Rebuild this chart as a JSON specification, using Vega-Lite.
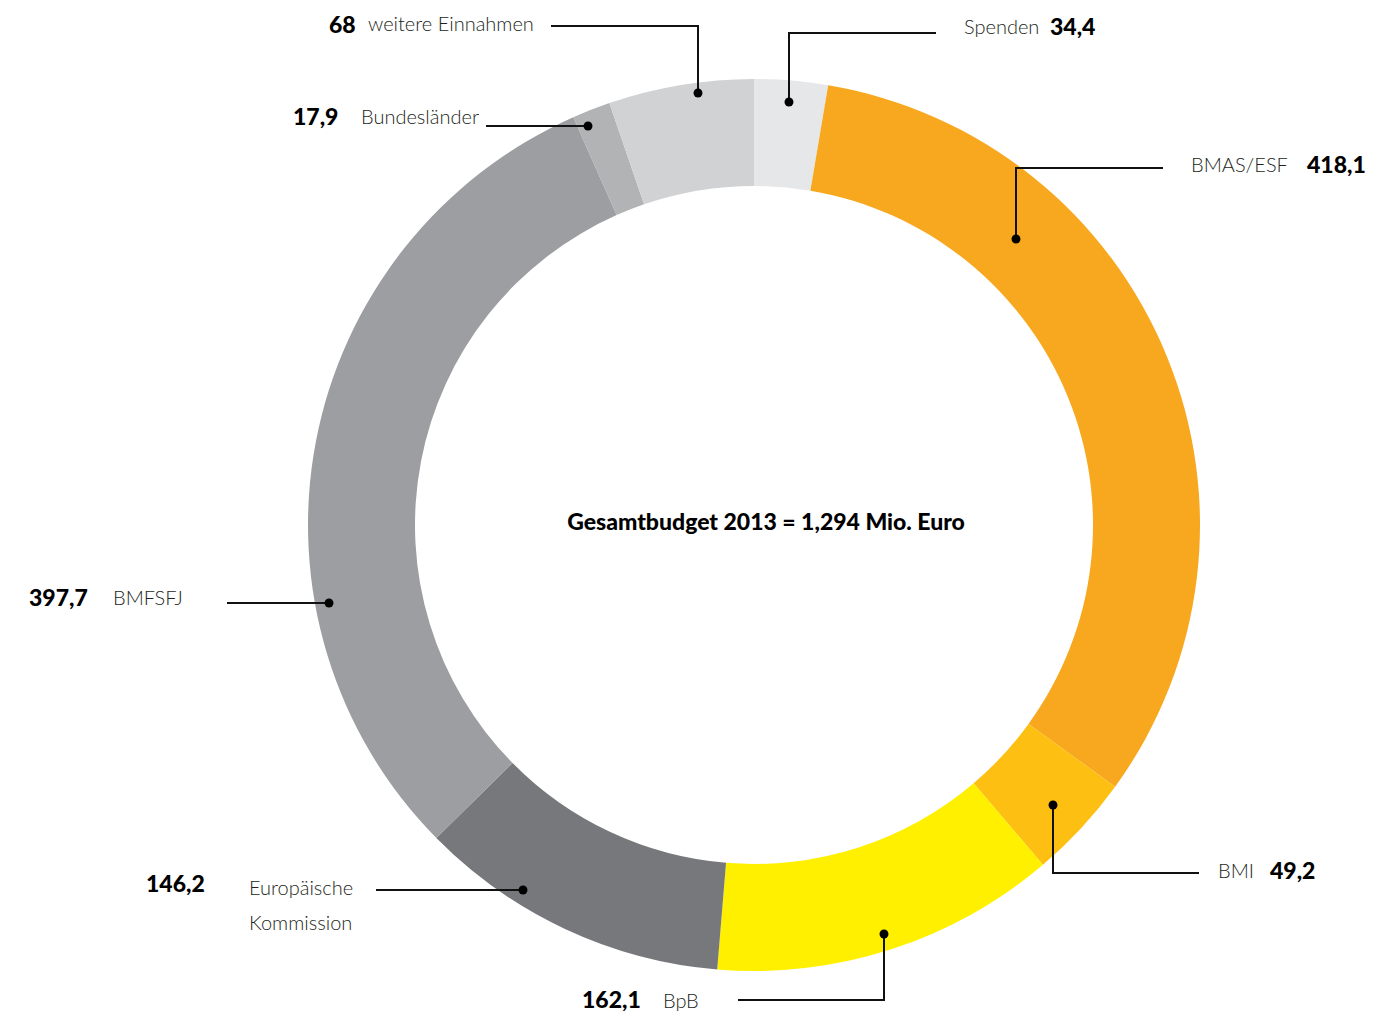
{
  "$schema": "https://vega.github.io/schema/vega-lite/v6.json",
  "width": 1400,
  "height": 1016,
  "autosize": "none",
  "padding": 0,
  "background": "white",
  "config": {"view": {"stroke": null}},
  "datasets": {
    "segments": [
      {"name": "Spenden", "value": 34.4, "idx": 1},
      {"name": "BMAS/ESF", "value": 418.1, "idx": 2},
      {"name": "BMI", "value": 49.2, "idx": 3},
      {"name": "BpB", "value": 162.1, "idx": 4},
      {"name": "Europäische Kommission", "value": 146.2, "idx": 5},
      {"name": "BMFSFJ", "value": 397.7, "idx": 6},
      {"name": "Bundesländer", "value": 17.9, "idx": 7},
      {"name": "weitere Einnahmen", "value": 68, "idx": 8}
    ],
    "leaders": [
      {"id": "weitere", "seq": 0, "x": -56, "y": 432},
      {"id": "weitere", "seq": 1, "x": -56, "y": 499},
      {"id": "weitere", "seq": 2, "x": -203, "y": 499},
      {"id": "spenden", "seq": 0, "x": 35, "y": 423},
      {"id": "spenden", "seq": 1, "x": 35, "y": 492},
      {"id": "spenden", "seq": 2, "x": 182, "y": 492},
      {"id": "laender", "seq": 0, "x": -166, "y": 399},
      {"id": "laender", "seq": 1, "x": -268, "y": 399},
      {"id": "bmas", "seq": 0, "x": 262, "y": 286},
      {"id": "bmas", "seq": 1, "x": 262, "y": 357},
      {"id": "bmas", "seq": 2, "x": 409, "y": 357},
      {"id": "bmfsfj", "seq": 0, "x": -425, "y": -78},
      {"id": "bmfsfj", "seq": 1, "x": -527, "y": -78},
      {"id": "bmi", "seq": 0, "x": 299, "y": -280},
      {"id": "bmi", "seq": 1, "x": 299, "y": -348},
      {"id": "bmi", "seq": 2, "x": 445, "y": -348},
      {"id": "bpb", "seq": 0, "x": 130, "y": -409},
      {"id": "bpb", "seq": 1, "x": 130, "y": -475},
      {"id": "bpb", "seq": 2, "x": -16, "y": -475},
      {"id": "ek", "seq": 0, "x": -231, "y": -365},
      {"id": "ek", "seq": 1, "x": -378, "y": -365}
    ],
    "labels": [
      {"text": "68", "kind": "value", "x": -425, "y": 499},
      {"text": "weitere Einnahmen", "kind": "name", "x": -386, "y": 500},
      {"text": "Spenden", "kind": "name", "x": 210, "y": 497},
      {"text": "34,4", "kind": "value", "x": 296, "y": 497},
      {"text": "17,9", "kind": "value", "x": -461, "y": 407},
      {"text": "Bundesländer", "kind": "name", "x": -393, "y": 407},
      {"text": "BMAS/ESF", "kind": "name", "x": 437, "y": 359},
      {"text": "418,1", "kind": "value", "x": 553, "y": 359},
      {"text": "397,7", "kind": "value", "x": -725, "y": -74},
      {"text": "BMFSFJ", "kind": "name", "x": -641, "y": -74},
      {"text": "BMI", "kind": "name", "x": 464, "y": -347},
      {"text": "49,2", "kind": "value", "x": 516, "y": -347},
      {"text": "162,1", "kind": "value", "x": -172, "y": -476},
      {"text": "BpB", "kind": "name", "x": -91, "y": -477},
      {"text": "146,2", "kind": "value", "x": -608, "y": -360},
      {"text": "Europäische", "kind": "name", "x": -505, "y": -364},
      {"text": "Kommission", "kind": "name", "x": -505, "y": -399}
    ],
    "title": [
      {"text": "Gesamtbudget 2013 = 1,294 Mio. Euro", "x": 12, "y": 2}
    ]
  },
  "layer": [
    {
      "data": {"name": "segments"},
      "mark": {"type": "arc", "outerRadius": 446, "innerRadius": 339},
      "encoding": {
        "x": {"datum": 0, "type": "quantitative", "scale": {"domain": [-754, 646], "nice": false, "zero": false}, "axis": null},
        "y": {"datum": 0, "type": "quantitative", "scale": {"domain": [-491, 525], "nice": false, "zero": false}, "axis": null},
        "theta": {"field": "value", "type": "quantitative", "stack": true},
        "order": {"field": "idx", "type": "quantitative", "sort": "ascending"},
        "color": {
          "field": "name",
          "type": "nominal",
          "legend": null,
          "scale": {
            "domain": ["Spenden", "BMAS/ESF", "BMI", "BpB", "Europäische Kommission", "BMFSFJ", "Bundesländer", "weitere Einnahmen"],
            "range": ["#e6e7e8", "#f8a81e", "#fcbf12", "#fff000", "#77787b", "#9d9ea1", "#b2b3b5", "#d1d2d4"]
          }
        }
      }
    },
    {
      "data": {"name": "leaders"},
      "mark": {"type": "line", "color": "#111111", "strokeWidth": 2, "interpolate": "linear"},
      "encoding": {
        "x": {"field": "x", "type": "quantitative", "scale": {"domain": [-754, 646], "nice": false, "zero": false}, "axis": null},
        "y": {"field": "y", "type": "quantitative", "scale": {"domain": [-491, 525], "nice": false, "zero": false}, "axis": null},
        "detail": {"field": "id", "type": "nominal"},
        "order": {"field": "seq", "type": "quantitative"}
      }
    },
    {
      "data": {"name": "leaders"},
      "transform": [{"filter": "datum.seq == 0"}],
      "mark": {"type": "point", "filled": true, "color": "#000000", "size": 80, "opacity": 1},
      "encoding": {
        "x": {"field": "x", "type": "quantitative", "axis": null},
        "y": {"field": "y", "type": "quantitative", "axis": null}
      }
    },
    {
      "data": {"name": "labels"},
      "transform": [{"filter": "datum.kind == 'name'"}],
      "mark": {"type": "text", "align": "left", "baseline": "middle", "font": "Lato", "fontSize": 20, "fontWeight": 300, "color": "#231f20"},
      "encoding": {
        "x": {"field": "x", "type": "quantitative", "axis": null},
        "y": {"field": "y", "type": "quantitative", "axis": null},
        "text": {"field": "text", "type": "nominal"}
      }
    },
    {
      "data": {"name": "labels"},
      "transform": [{"filter": "datum.kind == 'value'"}],
      "mark": {"type": "text", "align": "left", "baseline": "middle", "font": "Lato", "fontSize": 23, "fontWeight": 900, "color": "#000000"},
      "encoding": {
        "x": {"field": "x", "type": "quantitative", "axis": null},
        "y": {"field": "y", "type": "quantitative", "axis": null},
        "text": {"field": "text", "type": "nominal"}
      }
    },
    {
      "data": {"name": "title"},
      "mark": {"type": "text", "align": "center", "baseline": "middle", "font": "Lato", "fontSize": 23, "fontWeight": 900, "color": "#000000"},
      "encoding": {
        "x": {"field": "x", "type": "quantitative", "axis": null},
        "y": {"field": "y", "type": "quantitative", "axis": null},
        "text": {"field": "text", "type": "nominal"}
      }
    }
  ]
}
